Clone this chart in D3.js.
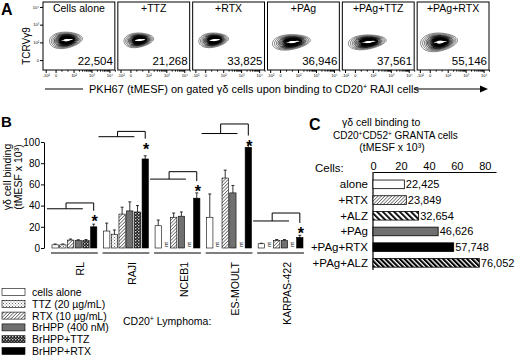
<!DOCTYPE html>
<html lang="en">
<head>
<meta charset="utf-8">
<title>gamma-delta cell binding</title>
<script src="https://d3js.org/d3.v7.min.js"></script>
<style>
    body { margin: 0; background: #fff; }
    svg { display: block; font-family: Arial, "Liberation Sans", sans-serif; }
</style>
</head>
<body>
<script>
    // ---- panel A: flow contour plots ----
    var flowPanels = ["Cells alone", "+TTZ", "+RTX", "+PAg", "+PAg+TTZ", "+PAg+RTX"];
    var flowMESF = [22504, 21268, 33825, 36946, 37561, 55146];
    // centre and spread of each population, in decades of the display scale
    var flowCx = [0.58, 0.47, 0.47, 0.63, 0.69, 0.52];
    var flowCy = [1.13, 1.13, 1.13, 1.02, 1.02, 1.02];
    var flowRx = [0.92, 0.83, 0.83, 1.06, 1.06, 1.03];
    var flowRy = [0.45, 0.40, 0.40, 0.42, 0.40, 0.51];
    var flowTicks = [-0.55, 0, 1, 2, 3];
    var flowTickLabels = ["-10²", "0", "10²", "10³", "10⁴"];
    var contourLevels = [1, 0.9, 0.81, 0.73, 0.66, 0.6, 0.54, 0.49, 0.44, 0.4, 0.36, 0.32, 0.28, 0.24];

    // ---- panel B: binding to CD20+ lymphoma lines (tMESF x 10^3) ----
    var cellLines = ["RL", "RAJI", "NCEB1", "ES-MOULT", "KARPAS-422"];
    var treatments = ["cells alone", "TTZ (20 µg/mL)", "RTX (10 µg/mL)", "BrHPP (400 nM)", "BrHPP+TTZ", "BrHPP+RTX"];
    var cellsAlone = [3, 16, 21, 29, 4];
    var ttz        = [3, 13, null, null, null];
    var rtx        = [7.5, 32, 29, 66, 7];
    var brhpp      = [7, 35, 30, 52, 7];
    var brhppTtz   = [7, 34, null, null, null];
    var brhppRtx   = [20, 84, 47, 95, 10];
    var errAlone    = [0.8, 7.5, 5.4, 22, 0.5];
    var errTtz      = [0.8, 4, null, null, null];
    var errRtx      = [1, 6.5, 4, 7.5, 1];
    var errBrhpp    = [0.8, 8.5, 4, 7, 1];
    var errBrhppTtz = [1, 6, null, null, null];
    var errBrhppRtx = [2.5, 3, 5, 4, 2];
    var bracketLow  = [37, 105, 65, 108, 25.5];
    var bracketHigh = [42.5, 110, 72, 117, 33];
    var yTicksB = [0, 20, 40, 60, 80, 100];

    // ---- panel C: binding to GRANTA cells ----
    var grantaCats = ["alone", "+RTX", "+ALZ", "+PAg", "+PAg+RTX", "+PAg+ALZ"];
    var grantaMESF = [22425, 23849, 32654, 46626, 57748, 76052];
    var xTicksC = [0, 20, 40, 60, 80];

    var w = 520, h = 360;
    var svg = d3.select("body").append("svg").attr("width", w).attr("height", h);
    var defs = svg.append("defs");

    function pattern(id, size, bg, angle) {
        var p = defs.append("pattern").attr("id", id)
            .attr("patternUnits", "userSpaceOnUse")
            .attr("width", size).attr("height", size);
        if (angle) p.attr("patternTransform", "rotate(" + angle + ")");
        p.append("rect").attr("width", size).attr("height", size).attr("fill", bg);
        return p;
    }
    var pt = pattern("ttz", 3, "#fff");
    pt.append("rect").attr("width", 1).attr("height", 1).attr("fill", "#666");
    pt.append("rect").attr("x", 1.5).attr("y", 1.5).attr("width", 1).attr("height", 1).attr("fill", "#888");
    pattern("rtx", 2.4, "#fff", 45).append("rect").attr("width", 0.8).attr("height", 2.4).attr("fill", "#666");
    var pb = pattern("bttz", 3, "#1a1a1a");
    pb.append("circle").attr("cx", 0.75).attr("cy", 0.75).attr("r", 0.75).attr("fill", "#fff");
    pb.append("circle").attr("cx", 2.25).attr("cy", 2.25).attr("r", 0.6).attr("fill", "#ddd");
    pattern("alz", 4, "#fff", -45).append("rect").attr("width", 1.8).attr("height", 4).attr("fill", "#000");
    pattern("palz", 3.4, "#fff", -45).append("rect").attr("width", 2.1).attr("height", 3.4).attr("fill", "#000");

    var fillsB = ["#fff", "url(#ttz)", "url(#rtx)", "#707070", "url(#bttz)", "#000"];
    var fillsC = ["#fff", "url(#rtx)", "url(#alz)", "#707070", "#000", "url(#palz)"];
    var fmt = d3.format(",");

    function styleAxis(g, size) {
        g.attr("font-family", null).attr("font-size", size);
        g.selectAll("line, path").attr("stroke", "#000");
    }

    // ======== Panel A ========
    svg.append("text").attr("x", 1).attr("y", 15).attr("font-size", 16).attr("font-weight", "bold").text("A");

    var boxX = d3.scaleBand().domain(flowPanels).range([43, 489]).paddingInner(0.04);
    var bw = boxX.bandwidth();
    var fx = d3.scaleLinear().domain([-0.7, 3.3]).range([0, bw]);
    var fy = d3.scaleLinear().domain([-0.56, 3.28]).range([70, 2]);

    var minorTicks = [0.33, 0.66];
    [1, 2].forEach(function(d) {
        for (var m = 2; m < 10; m++) minorTicks.push(d + Math.log10(m));
    });
    minorTicks.push(3 + Math.log10(2));

    function egg(cx, cy, rx, ry, tilt) {
        var a = tilt * Math.PI / 180;
        var pts = d3.range(72).map(function(j) {
            var t = j / 72 * 2 * Math.PI;
            var x = rx * Math.cos(t), y = ry * Math.sin(t) * (1 - 0.2 * Math.cos(t));
            return [cx + x * Math.cos(a) - y * Math.sin(a), cy + x * Math.sin(a) + y * Math.cos(a)];
        });
        return d3.line().curve(d3.curveLinearClosed)(pts);
    }

    flowPanels.forEach(function(name, i) {
        var g = svg.append("g").attr("transform", "translate(" + boxX(name) + ",0)");
        var cx = fx(flowCx[i]), cy = fy(flowCy[i]);
        var rx = flowRx[i] * (fx(1) - fx(0)), ry = flowRy[i] * (fy(0) - fy(1));
        contourLevels.forEach(function(k, j) {
            g.append("path")
                .attr("d", egg(cx + (1 - k) * 0.1 * rx, cy, rx * k, ry * k, -6))
                .attr("fill", "none").attr("stroke", j < 3 ? "#333" : "#000")
                .attr("stroke-width", 0.6 + j * 0.06);
        });
        g.append("ellipse").attr("cx", cx + 0.08 * rx).attr("cy", cy).attr("rx", rx * 0.36).attr("ry", 0.7)
            .attr("transform", "rotate(-6," + cx + "," + cy + ")").attr("fill", "#fff");

        g.append("rect").attr("x", 0).attr("y", 2).attr("width", bw).attr("height", 68)
            .attr("fill", "none").attr("stroke", "#000").attr("stroke-width", 1);

        var ax = g.append("g").attr("transform", "translate(0,70)")
            .call(d3.axisBottom(fx).tickValues(flowTicks).tickSize(3).tickPadding(1)
                .tickFormat(function(d, k) { return flowTickLabels[k]; }));
        styleAxis(ax, 4);
        ax.select(".domain").remove();
        var mx = g.append("g").attr("transform", "translate(0,70)")
            .call(d3.axisBottom(fx).tickValues(minorTicks).tickSize(1.6).tickFormat(""));
        mx.select(".domain").remove();
        styleAxis(mx, 4);

        if (i === 0) {
            var ay = g.append("g")
                .call(d3.axisLeft(fy).tickValues([0, 1, 2, 3]).tickSize(3).tickPadding(1)
                    .tickFormat(function(d) { return flowTickLabels[d + 1]; }));
            ay.select(".domain").remove();
            styleAxis(ay, 4);
        }

        g.append("text").attr("x", bw / 2).attr("y", 12).attr("text-anchor", "middle")
            .attr("font-size", 10.5).text(name);
        g.append("text").attr("x", bw - 2).attr("y", 65).attr("text-anchor", "end")
            .attr("font-size", 11.5).text(fmt(flowMESF[i]));
    });

    svg.append("text").attr("transform", "translate(30,46) rotate(-90)")
        .attr("text-anchor", "middle").attr("font-size", 10).text("TCRVγ9");

    svg.append("line").attr("x1", 45).attr("x2", 83).attr("y1", 89).attr("y2", 89)
        .attr("stroke", "#000").attr("stroke-width", 1.2);
    var xl = svg.append("text").attr("x", 89).attr("y", 93).attr("font-size", 11);
    xl.append("tspan").text("PKH67 (tMESF) on gated γδ  cells upon binding to CD20");
    xl.append("tspan").attr("font-size", 7).attr("dy", -4).text("+");
    xl.append("tspan").attr("dy", 4).text(" RAJI cells");
    svg.append("line").attr("x1", 414).attr("x2", 481).attr("y1", 89).attr("y2", 89)
        .attr("stroke", "#000").attr("stroke-width", 1.2);
    svg.append("path").attr("d", "M480,85.5L488,89L480,92.5Z").attr("fill", "#000");

    // ======== Panel B ========
    svg.append("text").attr("x", 1).attr("y", 127).attr("font-size", 15).attr("font-weight", "bold").text("B");

    var seriesB = [cellsAlone, ttz, rtx, brhpp, brhppTtz, brhppRtx];
    var errB = [errAlone, errTtz, errRtx, errBrhpp, errBrhppTtz, errBrhppRtx];
    var yB = d3.scaleLinear().domain([0, 100]).range([248, 142]);
    var gx = d3.scaleBand().domain(cellLines).range([52, 303]).paddingInner(0.13);
    var bx = d3.scaleBand().domain(d3.range(treatments.length)).range([0, gx.bandwidth()]).paddingInner(0.18);
    var barW = bx.bandwidth();

    var ayB = svg.append("g").attr("transform", "translate(44,0)")
        .call(d3.axisLeft(yB).tickValues(yTicksB).tickSize(3).tickSizeOuter(0).tickPadding(1));
    styleAxis(ayB, 10);

    svg.append("text").attr("transform", "translate(11,177) rotate(-90)")
        .attr("text-anchor", "middle").attr("font-size", 10.5).text("γδ cell binding");
    svg.append("text").attr("transform", "translate(22,177) rotate(-90)")
        .attr("text-anchor", "middle").attr("font-size", 10.5).text("(tMESF x 10³)");

    cellLines.forEach(function(line, li) {
        var g0 = gx(line);
        seriesB.forEach(function(s, si) {
            var v = s[li], x = g0 + bx(si);
            if (v === null) {
                svg.append("text").attr("transform", "translate(" + (x + barW / 2 + 2) + ",247) rotate(-90)")
                    .attr("font-size", 6).text("nt");
                return;
            }
            var e = errB[si][li], cxb = x + barW / 2;
            svg.append("line").attr("x1", cxb).attr("x2", cxb).attr("y1", yB(v)).attr("y2", yB(v + e))
                .attr("stroke", "#000").attr("stroke-width", 0.8);
            svg.append("line").attr("x1", cxb - 1.5).attr("x2", cxb + 1.5).attr("y1", yB(v + e)).attr("y2", yB(v + e))
                .attr("stroke", "#000").attr("stroke-width", 0.8);
            svg.append("rect").attr("x", x).attr("y", yB(v)).attr("width", barW)
                .attr("height", yB(0) - yB(v)).attr("fill", fillsB[si])
                .attr("stroke", "#000").attr("stroke-width", 0.6);
        });
        svg.append("line").attr("x1", g0 - 1).attr("x2", g0 + gx.bandwidth() + 1)
            .attr("y1", 253).attr("y2", 253).attr("stroke", "#000").attr("stroke-width", 1.2);

        // significance bracket
        var yl = yB(bracketLow[li]), yh = yB(bracketHigh[li]);
        var xr = g0 + bx(5) + barW / 2, xlft = g0 + bx(1) + barW;
        svg.append("line").attr("x1", g0 - 5).attr("x2", g0 + bx(4)).attr("y1", yl).attr("y2", yl)
            .attr("stroke", "#000").attr("stroke-width", 1);
        svg.append("path").attr("d", "M" + xlft + "," + yl + "V" + yh + "H" + xr + "V" + (yl + 2))
            .attr("fill", "none").attr("stroke", "#000").attr("stroke-width", 1);
        svg.append("text").attr("x", xr + 1).attr("y", yl + 18).attr("text-anchor", "middle")
            .attr("font-size", 16).attr("font-weight", "bold").text("*");

        svg.append("text").attr("transform", "translate(" + (g0 + gx.bandwidth() / 2 + 10) + ",262) rotate(-90)")
            .attr("text-anchor", "end").attr("font-size", 10.5).text(line);
    });

    var ly = d3.scalePoint().domain(treatments).range([292, 351]);
    treatments.forEach(function(t, i) {
        svg.append("rect").attr("x", 2).attr("y", ly(t) - 3.5).attr("width", 23).attr("height", 7)
            .attr("fill", fillsB[i]).attr("stroke", "#000").attr("stroke-width", 0.6);
        svg.append("text").attr("x", 32).attr("y", ly(t) + 4).attr("font-size", 10.5).text(t);
    });

    var lt = svg.append("text").attr("x", 123).attr("y", 325).attr("font-size", 10.5);
    lt.append("tspan").text("CD20");
    lt.append("tspan").attr("font-size", 7).attr("dy", -4).text("+");
    lt.append("tspan").attr("dy", 4).text(" Lymphoma:");

    // ======== Panel C ========
    svg.append("text").attr("x", 309).attr("y", 130).attr("font-size", 16).attr("font-weight", "bold").text("C");
    svg.append("text").attr("x", 342).attr("y", 126).attr("font-size", 10.5).text("γδ  cell binding to");
    var t2 = svg.append("text").attr("x", 333).attr("y", 139).attr("font-size", 10);
    t2.append("tspan").text("CD20");
    t2.append("tspan").attr("font-size", 6.5).attr("dy", -3.5).text("+");
    t2.append("tspan").attr("dy", 3.5).text("CD52");
    t2.append("tspan").attr("font-size", 6.5).attr("dy", -3.5).text("+");
    t2.append("tspan").attr("dy", 3.5).text(" GRANTA cells");
    svg.append("text").attr("x", 392).attr("y", 151).attr("text-anchor", "middle").attr("font-size", 10.5).text("(tMESF x 10³)");

    var xC = d3.scaleLinear().domain([0, 88]).range([373, 496]);
    var yC = d3.scaleBand().domain(grantaCats).range([176.5, 270.7]).paddingInner(0.45).paddingOuter(0.225);

    var axC = svg.append("g").attr("transform", "translate(0,172)")
        .call(d3.axisTop(xC).tickValues(xTicksC).tickSize(0).tickSizeOuter(0).tickPadding(2));
    styleAxis(axC, 11);
    axC.select(".domain").attr("stroke-width", 1.2);
    svg.append("line").attr("x1", xC(0)).attr("x2", xC(0)).attr("y1", 172).attr("y2", 270)
        .attr("stroke", "#000").attr("stroke-width", 1.2);
    svg.append("text").attr("x", 315).attr("y", 172).attr("font-size", 11.5).text("Cells:");

    grantaCats.forEach(function(c, i) {
        var v = grantaMESF[i] / 1000, y = yC(c), bh = yC.bandwidth();
        svg.append("rect").attr("x", xC(0)).attr("y", y).attr("width", xC(v) - xC(0)).attr("height", bh)
            .attr("fill", fillsC[i]).attr("stroke", "#000").attr("stroke-width", 0.8);
        svg.append("text").attr("x", 368).attr("y", y + bh / 2 + 4).attr("text-anchor", "end")
            .attr("font-size", 11.5).text(c);
        svg.append("text").attr("x", xC(v) + 1.5).attr("y", y + bh / 2 + 4)
            .attr("font-size", 11).text(fmt(grantaMESF[i]));
    });
</script>
</body>
</html>
